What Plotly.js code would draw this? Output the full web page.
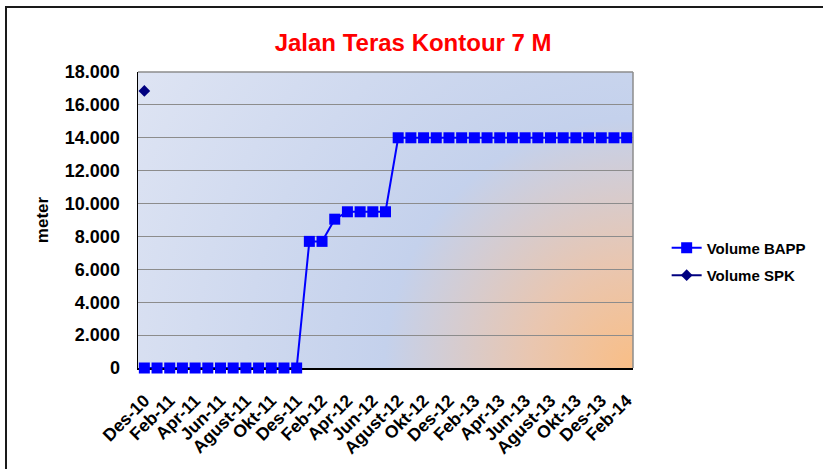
<!DOCTYPE html>
<html>
<head>
<meta charset="utf-8">
<script src="https://cdn.plot.ly/plotly-3.0.1.min.js"></script>
<style>
  html, body { margin: 0; padding: 0; background: #ffffff; }
  #wrap { position: relative; width: 823px; height: 469px; overflow: hidden; }
  #frame { position: absolute; left: 5px; top: 6px; width: 840px; height: 461px;
           border-top: 2px solid #1a1a1a; border-left: 2px solid #1a1a1a;
           border-bottom: 1px solid #dcdcdc; pointer-events: none; }
  #chart { position: absolute; left: 0; top: 0; width: 823px; height: 469px; }
</style>
</head>
<body>
<div id="wrap">
  <div id="frame"></div>
  <div id="chart"></div>
</div>
<script>
// ---- data ----
const months = [
  'Des-10','Jan-11','Feb-11','Mar-11','Apr-11','Mei-11','Jun-11','Jul-11','Agust-11','Sep-11','Okt-11','Nov-11',
  'Des-11','Jan-12','Feb-12','Mar-12','Apr-12','Mei-12','Jun-12','Jul-12','Agust-12','Sep-12','Okt-12','Nov-12',
  'Des-12','Jan-13','Feb-13','Mar-13','Apr-13','Mei-13','Jun-13','Jul-13','Agust-13','Sep-13','Okt-13','Nov-13',
  'Des-13','Jan-14','Feb-14'
];
const volumeBAPP = [
  0, 0, 0, 0, 0, 0, 0, 0, 0, 0, 0, 0,
  0, 7700, 7700, 9050, 9500, 9500, 9500, 9500, 14000, 14000, 14000, 14000,
  14000, 14000, 14000, 14000, 14000, 14000, 14000, 14000, 14000, 14000, 14000, 14000,
  14000, 14000, 14000
];
const spkMonths = ['Des-10'];
const volumeSPK = [16850];

const FONT = '"Liberation Sans", Arial, Helvetica, sans-serif';

const bgSvg =
  '<svg xmlns="http://www.w3.org/2000/svg" width="497" height="296" viewBox="0 0 497 296" preserveAspectRatio="none">' +
  '<defs><radialGradient id="g" gradientUnits="userSpaceOnUse" cx="497" cy="296" r="580">' +
  '<stop offset="0" stop-color="#f9be86"/>' +
  '<stop offset="0.18" stop-color="#e9c6b0"/>' +
  '<stop offset="0.43" stop-color="#c4d1ec"/>' +
  '<stop offset="1" stop-color="#dee4f3"/>' +
  '</radialGradient></defs>' +
  '<rect x="0" y="0" width="497" height="296" fill="url(#g)"/></svg>';
const bgUri = 'data:image/svg+xml;charset=utf-8,' + encodeURIComponent(bgSvg);

const traces = [
  {
    x: months, y: volumeBAPP, name: 'Volume BAPP', type: 'scatter', mode: 'lines+markers',
    line: { color: '#0000ff', width: 2 },
    marker: { symbol: 'square', size: 11, color: '#0000ff' },
    cliponaxis: false, legendgroup: 'a'
  },
  {
    x: spkMonths, y: volumeSPK, name: 'Volume SPK', type: 'scatter', mode: 'lines+markers',
    line: { color: '#000080', width: 2 },
    marker: { symbol: 'diamond', size: 9, color: '#000080' },
    cliponaxis: false, legendgroup: 'b'
  }
];

const layout = {
  width: 823, height: 469,
  margin: { l: 138, r: 188, t: 72, b: 101, pad: 0 },
  paper_bgcolor: 'rgba(0,0,0,0)',
  plot_bgcolor: 'rgba(0,0,0,0)',
  separators: ',.',
  font: { family: FONT, color: '#000000' },
  title: {
    text: 'Jalan Teras Kontour 7 M',
    font: { family: FONT, size: 24, color: '#ff0000', weight: 'bold' },
    xref: 'container', x: 0.502, xanchor: 'center',
    yref: 'container', y: 0.91, yanchor: 'middle'
  },
  xaxis: {
    type: 'category', categoryorder: 'array', categoryarray: months,
    range: [-0.5, months.length - 0.5],
    tickmode: 'linear', tick0: 0, dtick: 2,
    tickangle: -45,
    tickfont: { family: FONT, size: 17.5, color: '#000000', weight: 'bold' },
    ticks: 'outside', ticklen: 14, tickcolor: 'rgba(0,0,0,0)',
    showline: true, linecolor: '#000000', linewidth: 1.5,
    showgrid: false, zeroline: false, layer: 'below traces', automargin: false
  },
  yaxis: {
    range: [0, 18000], tickmode: 'linear', tick0: 0, dtick: 2000,
    tickformat: ',d',
    tickfont: { family: FONT, size: 18, color: '#000000', weight: 'bold' },
    ticks: 'outside', ticklen: 13, tickcolor: 'rgba(0,0,0,0)',
    showline: true, linecolor: '#000000', linewidth: 1.5,
    showgrid: true, gridcolor: '#8c8c8c', gridwidth: 1,
    zeroline: false, layer: 'below traces', automargin: false,
    title: { text: 'meter', font: { family: FONT, size: 17, color: '#000000', weight: 'bold' }, standoff: 12 }
  },
  legend: {
    x: 1.068, xanchor: 'left', y: 0.36, yanchor: 'middle',
    font: { family: FONT, size: 15, color: '#000000', weight: 'bold' },
    bgcolor: 'rgba(0,0,0,0)', traceorder: 'grouped', tracegroupgap: 5
  },
  images: [{
    source: bgUri, xref: 'paper', yref: 'paper', x: 0, y: 1, sizex: 1, sizey: 1,
    xanchor: 'left', yanchor: 'top', sizing: 'stretch', layer: 'below'
  }],
  shapes: [
    { type: 'line', xref: 'paper', yref: 'paper', x0: 0, x1: 1, y0: 1, y1: 1, line: { color: '#8c8c8c', width: 1.5 }, layer: 'below' },
    { type: 'line', xref: 'paper', yref: 'paper', x0: 1, x1: 1, y0: 0, y1: 1, line: { color: '#8c8c8c', width: 1.5 }, layer: 'below' }
  ],
  showlegend: true
};

Plotly.newPlot('chart', traces, layout, { staticPlot: true, displayModeBar: false });
</script>
</body>
</html>
